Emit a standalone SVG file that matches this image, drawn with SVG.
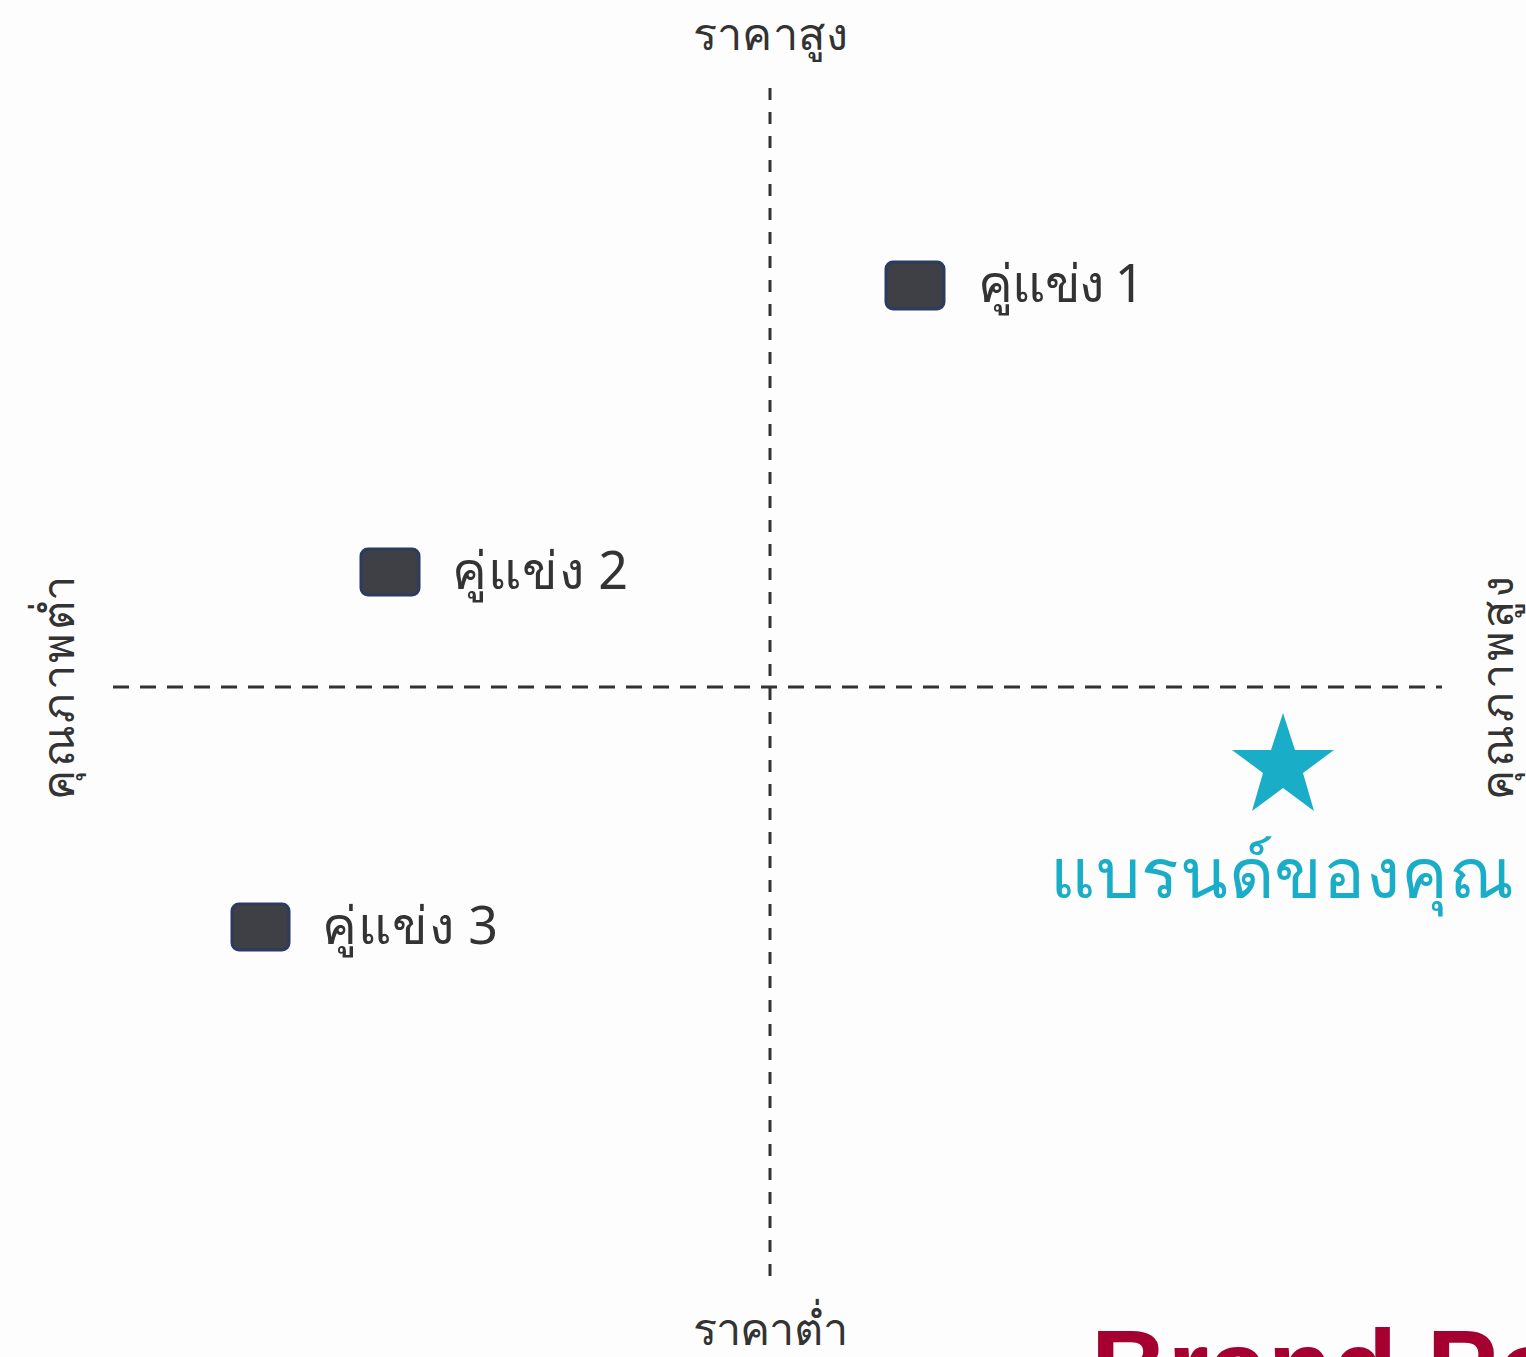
<svg xmlns="http://www.w3.org/2000/svg" width="1526" height="1357" viewBox="0 0 1526 1357">
<style>
.lbl{font-family:"Noto Sans","DejaVu Sans",sans-serif;fill:#333;font-size:45px;text-anchor:middle}
.nl{font-family:"Noto Sans","DejaVu Sans",sans-serif;fill:#333;font-size:52px}
.box{fill:#3e4045;stroke:#2c3b60;stroke-width:3}
.axis{stroke:#333;stroke-width:3;fill:none}
</style>
<rect width="1526" height="1357" fill="#fdfdfd"/>
<g id="connectors">
<line class="axis" x1="770" y1="88" x2="770" y2="1286" stroke-dasharray="12 12"/>
<line class="axis" x1="113" y1="687" x2="1442" y2="687" stroke-dasharray="16 11"/>
</g>
<g id="label-top"><text class="lbl" x="770" y="50" textLength="155">ราคาสูง</text></g>
<g id="label-bottom"><text class="lbl" x="770" y="1345" textLength="155">ราคาต่ำ</text></g>
<g id="label-left"><text class="lbl" transform="translate(74,688) rotate(-90)" textLength="224">คุณภาพต่ำ</text></g>
<g id="label-right"><text class="lbl" transform="translate(1513,688) rotate(-90)" textLength="224">คุณภาพสูง</text></g>
<g id="competitor-1"><rect class="box" x="886" y="262" width="58" height="47" rx="7"/><text class="nl" x="977" y="302" textLength="166">คู่แข่ง 1</text></g>
<g id="competitor-2"><rect class="box" x="361" y="549" width="58" height="46" rx="7"/><text class="nl" x="452" y="589" textLength="176">คู่แข่ง 2</text></g>
<g id="competitor-3"><rect class="box" x="232" y="904" width="57" height="46" rx="7"/><text class="nl" x="322" y="944" textLength="176">คู่แข่ง 3</text></g>
<g id="your-brand">
<polygon fill="#1aadc7" points="1283,713 1295,750 1334,750 1303,773 1314,811 1283,788 1252,811 1263,773 1232,750 1271,750"/>
<text x="1050" y="898" textLength="464" style="font-family:'Noto Sans','DejaVu Sans',sans-serif;font-size:70px;fill:#1aadc7">แบรนด์ของคุณ</text>
</g>
<g id="title"><text x="1091" y="1404" style="font-family:'Liberation Sans',sans-serif;font-weight:bold;font-size:106px;fill:#a5002f">Brand Po</text></g>
</svg>
